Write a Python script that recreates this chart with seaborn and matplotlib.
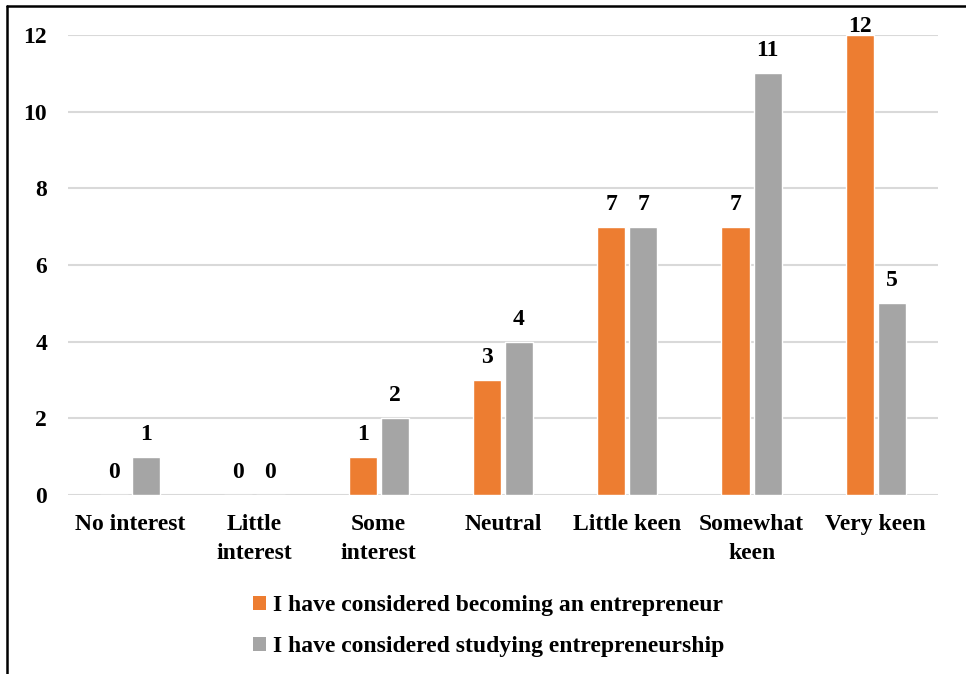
import matplotlib
matplotlib.use("Agg")
import matplotlib.pyplot as plt
from matplotlib.patches import Patch
from matplotlib.lines import Line2D
import seaborn as sns
import pandas as pd

categories = ["No interest", "Little\ninterest", "Some\ninterest", "Neutral",
              "Little keen", "Somewhat\nkeen", "Very keen"]
becoming = [0, 0, 1, 3, 7, 7, 12]
studying = [1, 0, 2, 4, 7, 11, 5]
series_names = ["I have considered becoming an entrepreneur",
                "I have considered studying entrepreneurship"]
colors = ["#ED7D31", "#A5A5A5"]
yticks = [0, 2, 4, 6, 8, 10, 12]

df = pd.DataFrame({
    "category": categories * 2,
    "value": becoming + studying,
    "series": [series_names[0]] * len(categories) + [series_names[1]] * len(categories),
})

sns.set_theme(style="white")
plt.rcParams["font.family"] = ["Liberation Serif", "DejaVu Serif"]
plt.rcParams["font.weight"] = "bold"
plt.rcParams["text.color"] = "black"
plt.rcParams["xtick.color"] = "black"
plt.rcParams["ytick.color"] = "black"

FS = 17
W, H = 966, 674
fig = plt.figure(figsize=(W / 100, H / 100), dpi=100)
ax_top_px, ax_bot_px = 35, 495
ax = fig.add_axes([68 / W, 1 - ax_bot_px / H, (938 - 68) / W, (ax_bot_px - ax_top_px) / H])

sns.barplot(data=df, x="category", y="value", hue="series", palette=colors,
            width=0.516, gap=0.124, ax=ax, legend=False, saturation=1)

ax.set_xlim(-0.5, len(categories) - 0.5)
ymax = 12
ax.set_ylim(0, ymax)
ax.set_yticks(yticks)
ax.set_yticklabels([str(t) for t in yticks], fontsize=FS, fontweight="bold")
ax.tick_params(axis="y", length=0, pad=15)
ax.tick_params(axis="x", length=0, pad=14)
for lbl in ax.get_xticklabels():
    lbl.set_fontsize(FS)
    lbl.set_fontweight("bold")
    lbl.set_linespacing(1.45)
    lbl.set_color("black")
ax.set_xlabel("")
ax.set_ylabel("")
for s in ax.spines.values():
    s.set_visible(False)
ax.yaxis.grid(True, color="#D9D9D9", linewidth=1.5)
ax.set_axisbelow(True)

# value labels: baseline ~17 px above the bar, kept close to the plot top
px_per_unit = (ax_bot_px - ax_top_px) / ymax
for cont in ax.containers:
    for bar in cont:
        v = bar.get_height()
        off_px = min(17.0, 3.0 + (ymax - v) * px_per_unit)
        ax.annotate(f"{v:g}", (bar.get_x() + bar.get_width() / 2, v),
                    xytext=(0, off_px * 72 / 100), textcoords="offset points",
                    ha="center", va="baseline", fontsize=FS, fontweight="bold",
                    color="black", annotation_clip=False)

handles = [Patch(facecolor=c, edgecolor="none") for c in colors]
fig.legend(handles, series_names, loc="upper left",
           bbox_to_anchor=(253 / W, 1 - 595 / H), frameon=False,
           prop={"size": FS, "weight": "bold"},
           handlelength=0.55, handleheight=0.55, handletextpad=0.3,
           labelspacing=0.85, borderaxespad=0, borderpad=0)

# frame lines along the top and left of the figure
fig.add_artist(Line2D([7 / W, 1], [1 - 5.5 / H, 1 - 5.5 / H], color="black",
                      linewidth=1.8, transform=fig.transFigure))
fig.add_artist(Line2D([7 / W, 7 / W], [0, 1 - 5.5 / H], color="black",
                      linewidth=1.8, transform=fig.transFigure))

fig.savefig("out.png", dpi=100, facecolor="white")
